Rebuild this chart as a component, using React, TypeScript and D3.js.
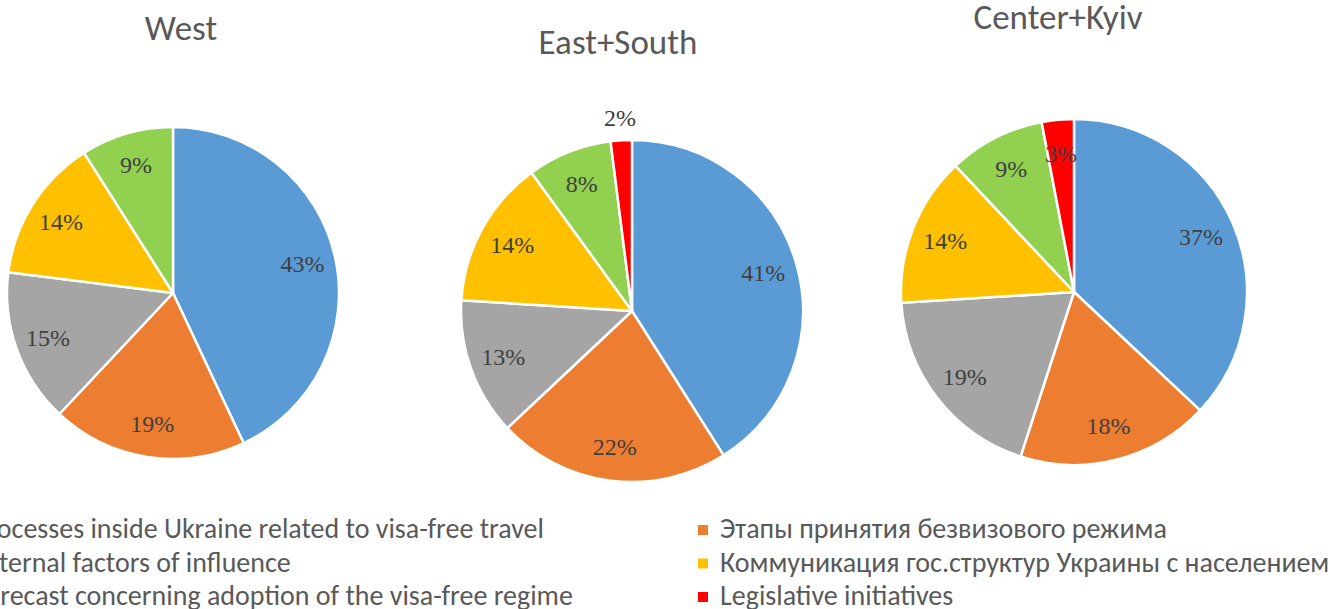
import React from "react";
import * as d3 from "d3";

const categories = [
  "Processes inside Ukraine related to visa-free travel",
  "Этапы принятия безвизового режима",
  "External factors of influence",
  "Коммуникация гос.структур Украины с населением",
  "Forecast concerning adoption of the visa-free regime",
  "Legislative initiatives",
];
const colors = ["#5B9BD5", "#ED7D31", "#A5A5A5", "#FFC000", "#92D050", "#FF0000"];

const regions = ["West", "East+South", "Center+Kyiv"];
const westValues = [43, 19, 15, 14, 9, 0];
const eastSouthValues = [41, 22, 13, 14, 8, 2];
const centerKyivValues = [37, 18, 19, 14, 9, 3];
const regionValues = [westValues, eastSouthValues, centerKyivValues];

const W = 1336;
const H = 609;

// layout per pie
const pieLayout = [
  { cx: 173, cy: 293, r: 166, titleY: 40, titleX: 181 },
  { cx: 632, cy: 311, r: 171, titleY: 54, titleX: 618 },
  { cx: 1074, cy: 292, r: 173, titleY: 29, titleX: 1058 },
];

const sansFont = "Carlito, 'Open Sans', sans-serif";
const serifFont = "'Liberation Serif', 'Times New Roman', serif";

function Pie({ values, layout, title }: { values: number[]; layout: any; title: string }) {
  const pie = d3.pie<number>().sort(null).value((d) => d).startAngle(0).endAngle(2 * Math.PI);
  const arcs = pie(values);
  const arc = d3.arc<d3.PieArcDatum<number>>().innerRadius(0).outerRadius(layout.r);
  const labelArc = d3.arc<d3.PieArcDatum<number>>().innerRadius(layout.r * 0.8).outerRadius(layout.r * 0.8);
  const outArc = d3.arc<d3.PieArcDatum<number>>().innerRadius(layout.r * 1.13).outerRadius(layout.r * 1.13);
  return (
    <g>
      <text x={layout.titleX} y={layout.titleY} textAnchor="middle" fontFamily={sansFont} fontSize={35} fill="#595959">
        {title}
      </text>
      <g transform={`translate(${layout.cx},${layout.cy})`}>
        {arcs.map((a, i) =>
          a.value > 0 ? (
            <path key={i} d={arc(a) || ""} fill={colors[i]} stroke="#fff" strokeWidth={2.5} strokeLinejoin="round" />
          ) : null
        )}
        {arcs.map((a, i) => {
          if (a.value <= 0) return null;
          const [x, y] = a.value < 3 ? outArc.centroid(a) : labelArc.centroid(a);
          return (
            <text
              key={"l" + i}
              x={x}
              y={y}
              textAnchor="middle"
              dominantBaseline="central"
              fontFamily={serifFont}
              fontSize={24}
              fill="#404040"
            >
              {a.value + "%"}
            </text>
          );
        })}
      </g>
    </g>
  );
}

const legendCols = [-27, 720];
const legendRows = [538, 571.5, 605];

export default function App() {
  return (
    <svg width={W} height={H} style={{ position: "absolute", left: 0, top: 0, background: "#fff" }}>
      <rect x={0} y={0} width={W} height={H} fill="#fff" />
      {regions.map((t, i) => (
        <Pie key={t} title={t} values={regionValues[i]} layout={pieLayout[i]} />
      ))}
      {categories.map((c, i) => {
        const col = i % 2;
        const row = Math.floor(i / 2);
        const x = legendCols[col];
        const y = legendRows[row];
        return (
          <g key={c}>
            <rect x={x - 22} y={y - 13} width={10} height={10} fill={colors[i]} />
            <text x={x} y={y} fontFamily={sansFont} fontSize={28} fill="#595959">
              {c}
            </text>
          </g>
        );
      })}
    </svg>
  );
}
